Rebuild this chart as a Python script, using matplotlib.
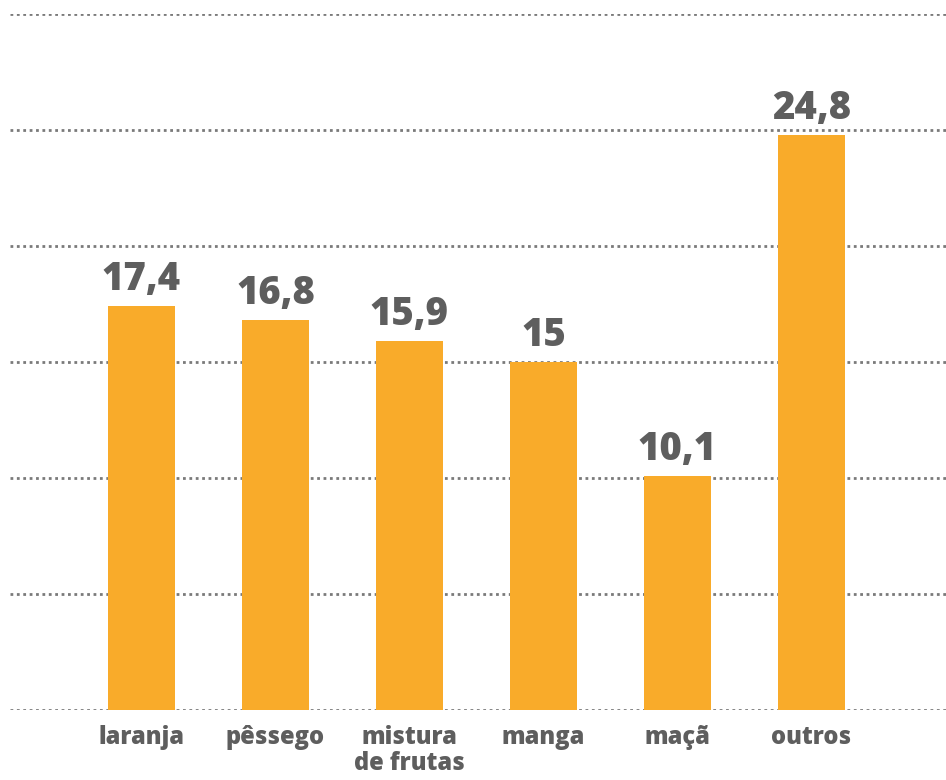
import numpy as np
import matplotlib.pyplot as plt

categories = ['laranja', 'pêssego', 'mistura\nde frutas', 'manga', 'maçã', 'outros']
values = [17.4, 16.8, 15.9, 15, 10.1, 24.8]
value_labels = ['17,4', '16,8', '15,9', '15', '10,1', '24,8']

bar_color = '#F9AB2A'
text_color = '#5E5E5E'

plt.rcParams['font.family'] = ['Open Sans', 'DejaVu Sans']

fig = plt.figure(figsize=(9.46, 7.8), dpi=100)
ax = fig.add_axes([10 / 946, 70 / 780, 936 / 946, 696 / 780])

x = np.arange(len(categories))
ax.bar(x, values, width=0.5, color=bar_color, zorder=3)

for xi, v, lab in zip(x, values, value_labels):
    ax.annotate(lab, (xi, v), xytext=(0, 5), textcoords='offset points',
                ha='center', va='bottom', fontsize=27.5, fontweight=800,
                color=text_color)

ax.set_ylim(0, 30)
ax.set_xlim(-0.981, 6.004)
ax.set_yticks(np.arange(0, 31, 5))
ax.yaxis.grid(True, linestyle=(0, (1, 1.3)), linewidth=2, color='#7A7A7A', zorder=0)
ax.set_axisbelow(True)

ax.set_xticks(x)
ax.set_xticklabels(categories, fontsize=17, fontweight=800, color=text_color,
                   linespacing=1.05)
ax.tick_params(axis='x', length=0, pad=11)
ax.tick_params(axis='y', length=0, labelleft=False)
for s in ax.spines.values():
    s.set_visible(False)

fig.savefig('out.png', dpi=100)
